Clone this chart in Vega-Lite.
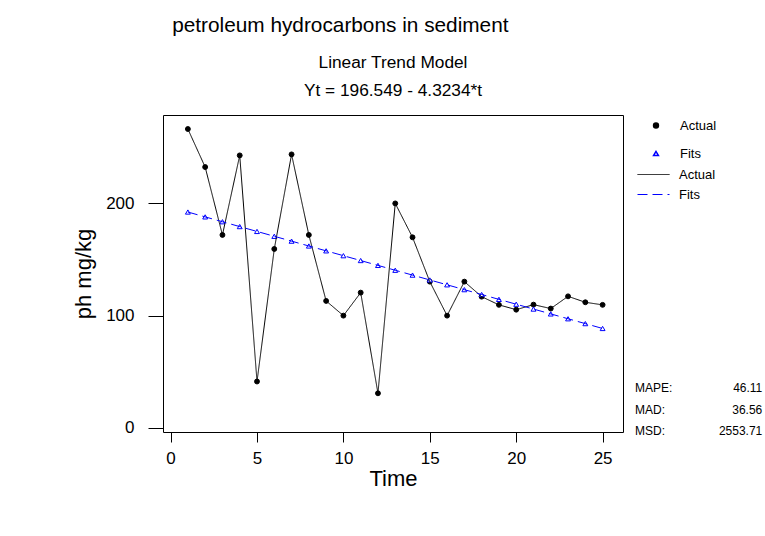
{
  "$schema": "https://vega.github.io/schema/vega-lite/v6.json",
  "padding": {"left": 72, "top": 15, "right": 5, "bottom": 5},
  "config": {
    "font": "Liberation Sans",
    "view": {"stroke": "black", "strokeWidth": 1},
    "axis": {"grid": false, "domain": false, "tickColor": "black", "tickWidth": 1, "labelColor": "black", "titleColor": "black", "labelFont": "Liberation Sans", "titleFont": "Liberation Sans", "titleFontWeight": "normal", "labelFlush": false, "labelOverlap": false},
    "legend": {"labelFont": "Liberation Sans", "labelFontSize": 13, "labelColor": "black", "padding": 0, "titlePadding": 0}
  },
  "title": {"text": "petroleum hydrocarbons in sediment", "anchor": "start", "frame": "bounds", "dx": 100, "fontSize": 20.8, "fontWeight": "normal", "color": "black", "font": "Liberation Sans", "offset": 16},
  "vconcat": [
    {
      "title": {"text": ["Linear Trend Model", "Yt = 196.549 - 4.3234*t"], "anchor": "middle", "fontSize": 17.3, "fontWeight": "normal", "lineHeight": 28, "offset": 16, "color": "black", "font": "Liberation Sans"},
      "width": 460,
      "height": 317,
      "data": {"values": [
        {"t": 1, "series": "Actual", "value": 266.2}, {"t": 1, "series": "Fits", "value": 192.23},
        {"t": 2, "series": "Actual", "value": 232.3}, {"t": 2, "series": "Fits", "value": 187.90},
        {"t": 3, "series": "Actual", "value": 171.8}, {"t": 3, "series": "Fits", "value": 183.58},
        {"t": 4, "series": "Actual", "value": 242.7}, {"t": 4, "series": "Fits", "value": 179.26},
        {"t": 5, "series": "Actual", "value": 41.2}, {"t": 5, "series": "Fits", "value": 174.93},
        {"t": 6, "series": "Actual", "value": 159.3}, {"t": 6, "series": "Fits", "value": 170.61},
        {"t": 7, "series": "Actual", "value": 243.6}, {"t": 7, "series": "Fits", "value": 166.29},
        {"t": 8, "series": "Actual", "value": 171.8}, {"t": 8, "series": "Fits", "value": 161.96},
        {"t": 9, "series": "Actual", "value": 113.0}, {"t": 9, "series": "Fits", "value": 157.64},
        {"t": 10, "series": "Actual", "value": 99.9}, {"t": 10, "series": "Fits", "value": 153.32},
        {"t": 11, "series": "Actual", "value": 120.4}, {"t": 11, "series": "Fits", "value": 148.99},
        {"t": 12, "series": "Actual", "value": 30.7}, {"t": 12, "series": "Fits", "value": 144.67},
        {"t": 13, "series": "Actual", "value": 199.9}, {"t": 13, "series": "Fits", "value": 140.34},
        {"t": 14, "series": "Actual", "value": 169.7}, {"t": 14, "series": "Fits", "value": 136.02},
        {"t": 15, "series": "Actual", "value": 130.2}, {"t": 15, "series": "Fits", "value": 131.70},
        {"t": 16, "series": "Actual", "value": 99.9}, {"t": 16, "series": "Fits", "value": 127.37},
        {"t": 17, "series": "Actual", "value": 130.2}, {"t": 17, "series": "Fits", "value": 123.05},
        {"t": 18, "series": "Actual", "value": 116.8}, {"t": 18, "series": "Fits", "value": 118.73},
        {"t": 19, "series": "Actual", "value": 109.5}, {"t": 19, "series": "Fits", "value": 114.40},
        {"t": 20, "series": "Actual", "value": 105.2}, {"t": 20, "series": "Fits", "value": 110.08},
        {"t": 21, "series": "Actual", "value": 109.7}, {"t": 21, "series": "Fits", "value": 105.76},
        {"t": 22, "series": "Actual", "value": 106.2}, {"t": 22, "series": "Fits", "value": 101.43},
        {"t": 23, "series": "Actual", "value": 117.1}, {"t": 23, "series": "Fits", "value": 97.11},
        {"t": 24, "series": "Actual", "value": 111.8}, {"t": 24, "series": "Fits", "value": 92.79},
        {"t": 25, "series": "Actual", "value": 109.5}, {"t": 25, "series": "Fits", "value": 88.46}
      ]},
      "encoding": {
        "x": {"field": "t", "type": "quantitative", "scale": {"domain": [-0.44, 26.18], "nice": false, "zero": false},
              "axis": {"title": "Time", "values": [0, 5, 10, 15, 20, 25], "tickSize": 10, "labelPadding": 8, "labelFontSize": 17, "titleFontSize": 22, "titlePadding": 2}},
        "y": {"field": "value", "type": "quantitative", "scale": {"domain": [-3.8, 278.7], "nice": false, "zero": false},
              "axis": {"title": "ph mg/kg", "values": [0, 100, 200], "tickSize": 15, "labelPadding": 14, "labelFontSize": 17, "titleFontSize": 22, "titlePadding": 10}}
      },
      "layer": [
        {
          "mark": {"type": "point", "size": 24, "strokeWidth": 1, "opacity": 1},
          "encoding": {
            "shape": {"field": "series", "type": "nominal", "scale": {"domain": ["Actual", "Fits"], "range": ["circle", "triangle-up"]},
                      "legend": {"title": null, "orient": "none", "legendX": 474, "legendY": 0, "padding": 4, "symbolOffset": 8.5, "symbolSize": 24, "labelOffset": 17.5, "rowPadding": 14, "clipHeight": 13}},
            "stroke": {"field": "series", "type": "nominal", "scale": {"domain": ["Actual", "Fits"], "range": ["black", "#0000ff"]},
                      "legend": {"title": null, "orient": "none", "legendX": 474, "legendY": 0, "padding": 4, "symbolOffset": 8.5, "symbolSize": 24, "labelOffset": 17.5, "rowPadding": 14, "clipHeight": 13}},
            "fill": {"field": "series", "type": "nominal", "scale": {"domain": ["Actual", "Fits"], "range": ["black", "white"]},
                      "legend": {"title": null, "orient": "none", "legendX": 474, "legendY": 0, "padding": 4, "symbolOffset": 8.5, "symbolSize": 24, "labelOffset": 17.5, "rowPadding": 14, "clipHeight": 13}}
          }
        },
        {
          "mark": {"type": "line", "strokeWidth": 1},
          "encoding": {
            "color": {"field": "series", "type": "nominal", "scale": {"range": ["black", "#0000ff"]},
                      "legend": {"title": null, "orient": "none", "legendX": 474, "legendY": 53, "symbolType": "stroke", "symbolSize": 1024, "symbolStrokeWidth": 1, "labelOffset": 9, "rowPadding": 6, "clipHeight": 13}},
            "strokeDash": {"field": "series", "type": "nominal", "scale": {"range": [[1, 0], [10, 5]]},
                      "legend": {"title": null, "orient": "none", "legendX": 474, "legendY": 53, "symbolType": "stroke", "symbolSize": 1024, "symbolStrokeWidth": 1, "labelOffset": 9, "rowPadding": 6, "clipHeight": 13}}
          }
        },
        {
          "transform": [{"filter": "datum.t == 1 && datum.series == 'Actual'"}],
          "layer": [
            {"mark": {"type": "text", "align": "left", "baseline": "middle", "fontSize": 12, "color": "black", "clip": false},
             "encoding": {"x": {"datum": 26.88}, "y": {"datum": 35.4}, "text": {"value": "MAPE:"}}},
            {"mark": {"type": "text", "align": "right", "baseline": "middle", "fontSize": 12, "color": "black", "clip": false},
             "encoding": {"x": {"datum": 34.24}, "y": {"datum": 35.4}, "text": {"value": "46.11"}}},
            {"mark": {"type": "text", "align": "left", "baseline": "middle", "fontSize": 12, "color": "black", "clip": false},
             "encoding": {"x": {"datum": 26.88}, "y": {"datum": 16.2}, "text": {"value": "MAD:"}}},
            {"mark": {"type": "text", "align": "right", "baseline": "middle", "fontSize": 12, "color": "black", "clip": false},
             "encoding": {"x": {"datum": 34.24}, "y": {"datum": 16.2}, "text": {"value": "36.56"}}},
            {"mark": {"type": "text", "align": "left", "baseline": "middle", "fontSize": 12, "color": "black", "clip": false},
             "encoding": {"x": {"datum": 26.88}, "y": {"datum": -2.9}, "text": {"value": "MSD:"}}},
            {"mark": {"type": "text", "align": "right", "baseline": "middle", "fontSize": 12, "color": "black", "clip": false},
             "encoding": {"x": {"datum": 34.24}, "y": {"datum": -2.9}, "text": {"value": "2553.71"}}}
          ]
        }
      ]
    }
  ]
}
